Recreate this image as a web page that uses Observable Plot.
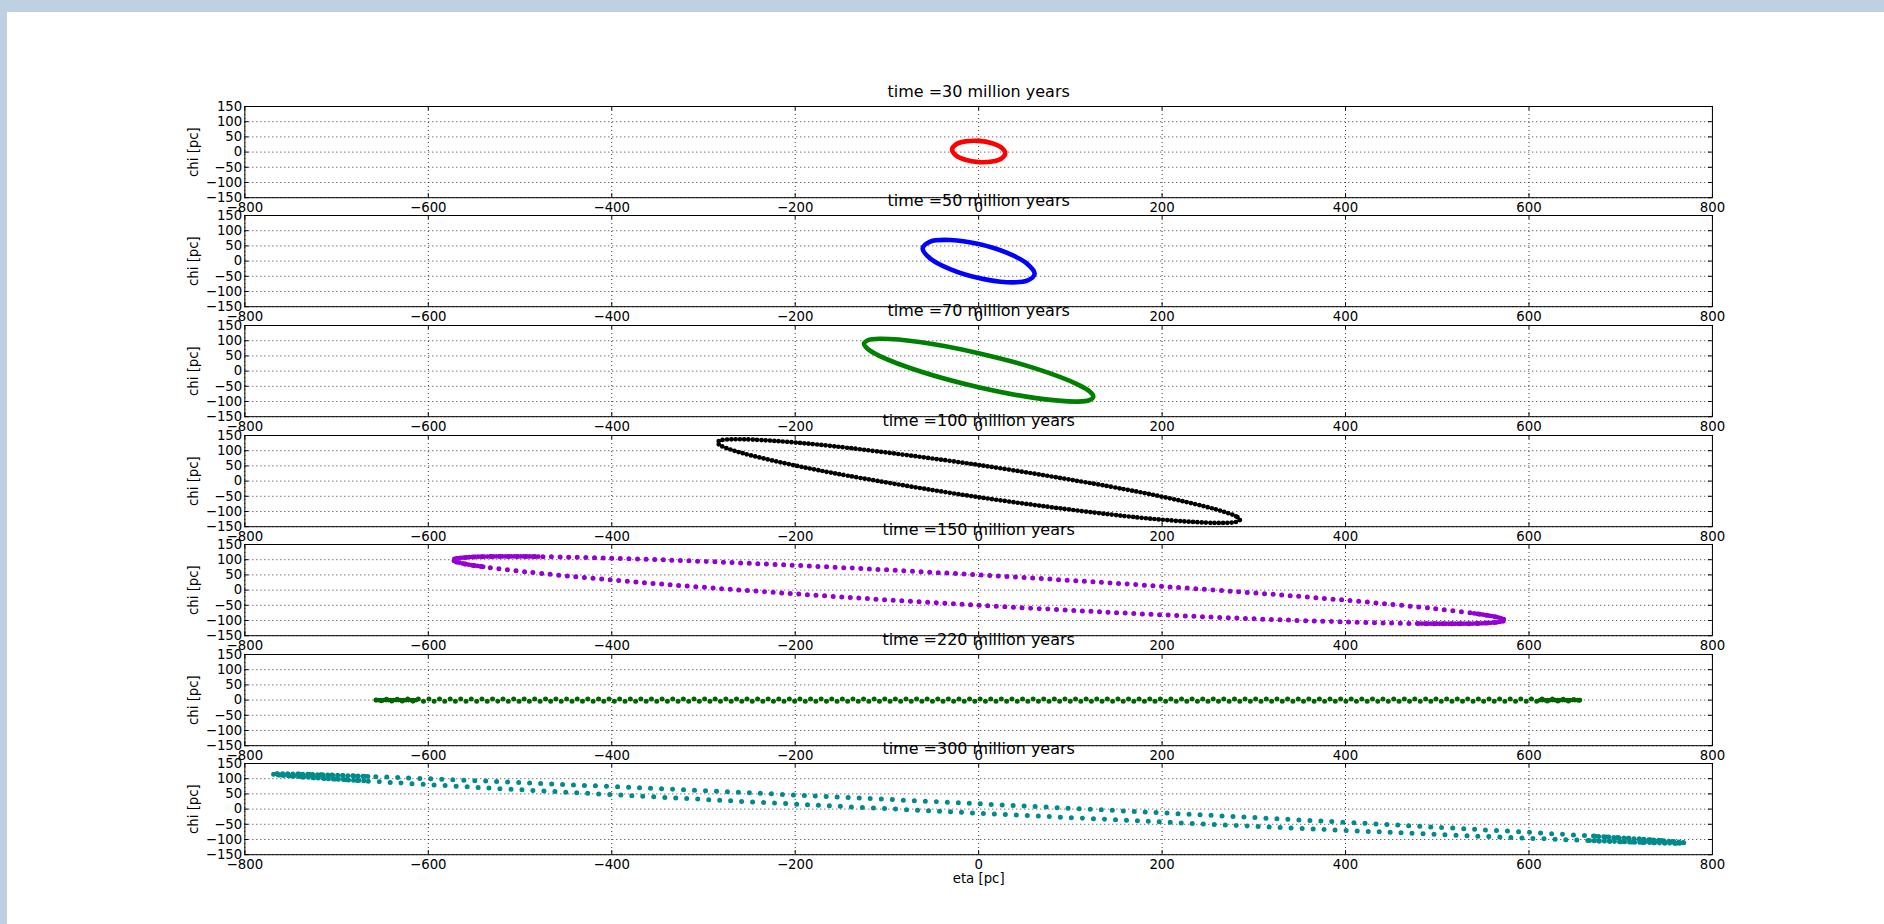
<!DOCTYPE html>
<html><head><meta charset="utf-8">
<script src="https://cdn.jsdelivr.net/npm/d3@7"></script>
<script src="https://cdn.jsdelivr.net/npm/@observablehq/plot@0.6"></script>
<style>
html,body{margin:0;padding:0;background:#fff;width:1884px;height:924px;overflow:hidden;font-family:"DejaVu Sans",sans-serif;}
#strip-top{position:absolute;left:0;top:0;width:1884px;height:12px;background:#bed0e1;overflow:hidden;}
#strip-left{position:absolute;left:0;top:0;width:7px;height:924px;background:#bed0e1;}
.frag{position:absolute;font-family:"DejaVu Sans",sans-serif;font-size:60px;line-height:60px;color:#000;}
.panel{position:absolute;left:0;width:1884px;}
.panel svg{overflow:visible;}
</style></head><body>
<div id="strip-top"><span class="frag" style="left:262px;top:-64px">y</span><span class="frag" style="left:1196px;top:-64px">g</span></div>
<div id="strip-left"></div>
<div id="chart"></div>
<script>
// ---- data ----
const times = [30, 50, 70, 100, 150, 220, 300];
const xTicks = [-800, -600, -400, -200, 0, 200, 400, 600, 800];
const yTicks = [-150, -100, -50, 0, 50, 100, 150];
const xLabel = "eta [pc]";
const yLabel = "chi [pc]";

const eta30 = [29, 25.1, 14.5, 0, -14.5, -25.1, -29, -25.1, -14.5, 0, 14.5, 25.1];
const chi30 = [-4, 14.3, 29.3, 37, 35.3, 24.7, 8, -10.3, -25.3, -33, -31.3, -20.7];

const eta50 = [61, 52.8, 30.5, 0, -30.5, -52.8, -61, -52.8, -30.5, 0, 30.5, 52.8];
const chi50 = [-42, -8.4, 27.5, 56, 69.5, 64.4, 42, 8.4, -27.5, -56, -69.5, -64.4];

const eta70 = [125, 120.8, 108.3, 62.5, 0, -62.5, -108.3, -120.8, -125, -120.8, -108.3, -62.5, 0, 62.5, 108.3, 120.8];
const chi70 = [-84, -66.5, -44.3, 8, 59, 95, 106.3, 101.5, 90, 72.5, 50.3, -2, -53, -89, -100.3, -95.5];

const eta100 = [285, 280.7, 267.9, 246.8, 201.5, 142.5, 0, -142.5, -201.5, -246.8, -267.9, -280.7, -285, -280.7, -267.9, -246.8, -201.5, -142.5, 0, 142.5, 201.5, 246.8, 267.9, 280.7];
const chi100 = [-127, -115.9, -101.3, -83.5, -52.3, -17.6, 53, 109.4, 127.3, 136.5, 137.5, 134.3, 127, 115.9, 101.3, 83.5, 52.3, 17.6, -53, -109.4, -127.3, -136.5, -137.5, -134.3];

const eta150 = [573, 572.2, 569.8, 564.4, 553.5, 538.6, 496.2, 405.1, 286.5, 148.4, 0, -148.4, -286.5, -405.1, -496.2, -538.6, -553.5, -564.4, -569.8, -572.2, -573, -572.2, -569.8, -564.4, -553.5, -538.6, -496.2, -405.1, -286.5, -148.4, 0, 148.4, 286.5, 405.1, 496.2, 538.6, 553.5, 564.4, 569.8, 572.2];
const chi150 = [-99, -96.3, -93.3, -88.8, -82.6, -76, -60.7, -34.6, -6.2, 22.7, 50, 73.9, 92.8, 105.4, 110.7, 110.2, 108.6, 106.2, 103.7, 101.5, 99, 96.3, 93.3, 88.8, 82.6, 76, 60.7, 34.6, 6.2, -22.7, -50, -73.9, -92.8, -105.4, -110.7, -110.2, -108.6, -106.2, -103.7, -101.5];
const etaTip150L = [-480, -496.2, -538.6, -553.5, -564.4, -569.8, -572.2, -573, -572.2, -569.8, -564.4, -553.5, -538.6];
const chiTip150L = [110, 110.7, 110.2, 108.6, 106.2, 103.7, 101.5, 99, 96.3, 93.3, 88.8, 82.6, 76];
const etaTip150R = [480, 496.2, 538.6, 553.5, 564.4, 569.8, 572.2, 573, 572.2, 569.8, 564.4, 553.5, 538.6];
const chiTip150R = [-110, -110.7, -110.2, -108.6, -106.2, -103.7, -101.5, -99, -96.3, -93.3, -88.8, -82.6, -76];

const eta220 = [-657, -650, -635, -610, -500, -250, 0, 250, 500, 610, 635, 650, 657];
const chi220Upper = [0, 2, 3, 3.5, 3.5, 3.5, 3.5, 3.5, 3.5, 3.5, 3, 2, 0];
const chi220Lower = [0, -2, -3, -3.5, -3.5, -3.5, -3.5, -3.5, -3.5, -3.5, -3, -2, 0];
const etaTip220L = [-657, -612];
const etaTip220R = [612, 657];
const chiTip220 = [0, 0];

const eta300 = [769, 768, 764.8, 757.3, 742.9, 722.9, 666, 543.7, 384.5, 199.2, 0, -199.2, -384.5, -543.7, -666, -722.9, -742.9, -757.3, -764.8, -768, -769, -768, -764.8, -757.3, -742.9, -722.9, -666, -543.7, -384.5, -199.2, 0, 199.2, 384.5, 543.7, 666, 722.9, 742.9, 757.3, 764.8, 768];
const chi300 = [-111, -110, -108.8, -106.6, -103.2, -98.9, -88.1, -66.9, -41.1, -12.3, 17.5, 46.3, 71.9, 92.9, 107.6, 113.5, 115.2, 116, 116, 115.6, 115, 114, 112.8, 110.6, 107.2, 102.9, 92.1, 70.9, 45.1, 16.3, -13.5, -42.3, -67.9, -88.9, -103.6, -109.5, -111.2, -112, -112, -111.6];
const etaTip300L = [-666, -722.9, -742.9, -757.3, -764.8, -768, -769, -768, -764.8, -757.3, -742.9, -722.9, -666];
const chiTip300L = [107.6, 113.5, 115.2, 116, 116, 115.6, 115, 114, 112.8, 110.6, 107.2, 102.9, 92.1];
const etaTip300R = [666, 722.9, 742.9, 757.3, 764.8, 768, 769, 768, 764.8, 757.3, 742.9, 722.9, 666];
const chiTip300R = [-103.6, -109.5, -111.2, -112, -112, -111.6, -111, -110, -108.8, -106.6, -103.2, -98.9, -88.1];

// ---- styles ----
const colors = ["#ff0000", "#0000ff", "#008000", "#000000", "#9400d3", "#006400", "#008b8b"];
const W = 1884, frameLeft = 244.3, frameRight = 1712, frameH = 91.2, top0 = 105.7, pitch = 109.6;
const MT = 30, MB = 40;
const fmt = d => d < 0 ? "\u2212" + Math.abs(d) : String(d);
const pts = (eta, chi) => eta.map((e, i) => ({eta: e, chi: chi[i]}));

function ring(eta, chi, color) {
  return Plot.line(pts(eta, chi), {x: "eta", y: "chi", curve: "catmull-rom-closed", stroke: color, strokeWidth: 4.6});
}
function beads(eta, chi, color, gap, size, closed = true, offset = 0) {
  return Plot.line(pts(eta, chi), {x: "eta", y: "chi", curve: closed ? "catmull-rom-closed" : "catmull-rom",
    stroke: color, strokeWidth: size, strokeLinecap: "round", strokeDasharray: `0 ${gap}`, strokeDashoffset: offset});
}

const dataMarks = [
  [ring(eta30, chi30, colors[0])],
  [ring(eta50, chi50, colors[1])],
  [ring(eta70, chi70, colors[2])],
  [beads(eta100, chi100, colors[3], 4.3, 4.7)],
  [beads(eta150, chi150, colors[4], 8.6, 5), beads(etaTip150L, chiTip150L, colors[4], 3, 4.8, false), beads(etaTip150R, chiTip150R, colors[4], 3, 4.8, false)],
  [beads(eta220, chi220Upper, colors[5], 10.6, 5, false, 0), beads(eta220, chi220Lower, colors[5], 10.6, 5, false, 5.3),
   beads(etaTip220L, chiTip220, colors[5], 2.5, 4.6, false), beads(etaTip220R, chiTip220, colors[5], 2.5, 4.6, false)],
  [beads(eta300, chi300, colors[6], 11, 5), beads(etaTip300L, chiTip300L, colors[6], 5, 5, false), beads(etaTip300R, chiTip300R, colors[6], 5, 5, false)]
];

const chart = document.getElementById("chart");
const innerW = frameRight - frameLeft;
times.forEach((t, k) => {
  const marks = [
    Plot.ruleX(xTicks, {stroke: "#000", strokeWidth: 0.8, strokeDasharray: "1,3"}),
    Plot.ruleY(yTicks, {stroke: "#000", strokeWidth: 0.8, strokeDasharray: "1,3"}),
    Plot.ruleX(xTicks, {stroke: "#000", insetBottom: frameH - 4}),
    Plot.ruleX(xTicks, {stroke: "#000", insetTop: frameH - 4}),
    Plot.ruleY(yTicks, {stroke: "#000", insetRight: innerW - 4}),
    Plot.ruleY(yTicks, {stroke: "#000", insetLeft: innerW - 4}),
    ...dataMarks[k],
    Plot.frame({stroke: "#000", strokeWidth: 1}),
    Plot.text([`time =${t} million years`], {text: d => d, frameAnchor: "top", dy: -9, lineAnchor: "bottom", fontSize: 16}),
    Plot.text([yLabel], {text: d => d, frameAnchor: "left", rotate: -90, dx: -46.5, lineAnchor: "bottom", textAnchor: "middle"})
  ];
  if (k === times.length - 1) marks.push(Plot.text([xLabel], {text: d => d, frameAnchor: "bottom", dy: 28, lineAnchor: "bottom"}));
  const svg = Plot.plot({
    width: W, height: frameH + MT + MB,
    marginLeft: frameLeft, marginRight: W - frameRight, marginTop: MT, marginBottom: MB,
    style: {background: "transparent", overflow: "visible", fontFamily: "DejaVu Sans", fontSize: "13.3px", color: "#000"},
    x: {domain: [-800, 800], ticks: xTicks, tickSize: 0, tickPadding: 5, tickFormat: fmt, label: null},
    y: {domain: [-150, 150], ticks: yTicks, tickSize: 0, tickPadding: 2.6, tickFormat: fmt, label: null},
    marks
  });
  const div = document.createElement("div");
  div.className = "panel";
  div.style.top = (top0 + k * pitch - MT) + "px";
  div.appendChild(svg);
  chart.appendChild(div);
});
</script>
</body></html>
